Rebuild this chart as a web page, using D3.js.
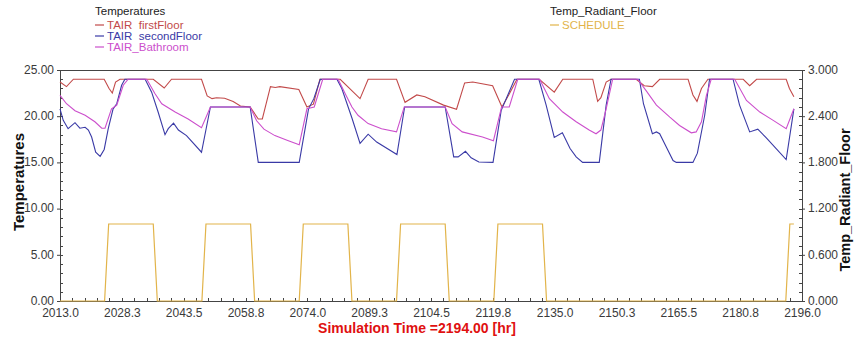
<!DOCTYPE html>
<html>
<head>
<meta charset="utf-8">
<script src="https://cdn.jsdelivr.net/npm/d3@7/dist/d3.min.js"></script>
<style>
  html, body { margin: 0; padding: 0; background: #fff; }
  svg { display: block; font-family: "Liberation Sans", Arial, sans-serif; }
</style>
</head>
<body>
<svg id="chart" width="854" height="341"></svg>
<script>
// ---- data (time [hr], value) ----
const firstFloorT = [2013.0, 2014.6, 2016.3, 2023.9, 2025.1, 2025.9, 2026.7, 2027.8, 2036.0, 2038.7, 2040.5, 2047.9,
  2049.3, 2050.5, 2051.6, 2053.6, 2055.7, 2057.5, 2059.9, 2061.9, 2062.9, 2064.9, 2066.1, 2067.2, 2071.9, 2073.9,
  2075.5, 2077.1, 2082.1, 2087.0, 2089.0, 2096.0, 2098.1, 2101.0, 2103.0, 2107.6, 2110.8, 2112.8, 2114.8, 2119.7,
  2122.0, 2123.8, 2125.7, 2131.2, 2134.9, 2137.0, 2144.4, 2145.6, 2146.4, 2147.7, 2148.9, 2155.1, 2157.1, 2159.1,
  2160.9, 2167.9, 2169.1, 2170.1, 2171.2, 2172.8, 2181.5, 2183.1, 2184.8, 2192.1, 2192.9, 2194.0];
const firstFloorV = [23.7, 23.2, 24.0, 24.0, 23.0, 22.5, 23.7, 24.0, 24.0, 23.05, 24.0, 24.0,
  22.2, 21.9, 22.0, 21.95, 21.6, 21.1, 21.0, 19.7, 19.7, 23.2, 23.1, 23.2, 22.9, 21.0,
  21.3, 24.0, 24.0, 21.9, 24.0, 24.0, 21.5, 22.3, 22.1, 21.2, 20.75, 23.6, 23.7, 23.3,
  21.0, 22.4, 24.0, 24.0, 22.6, 24.0, 24.0, 21.6, 22.0, 23.7, 24.0, 24.0, 23.3, 23.2,
  24.0, 24.0, 22.3, 21.6, 23.0, 24.0, 24.0, 23.3, 24.0, 24.0, 23.0, 22.1];

const secondFloorT = [2013.0, 2013.8, 2015.0, 2016.7, 2017.9, 2019.2, 2020.0, 2020.8, 2021.8, 2022.9, 2023.9, 2024.9,
  2026.1, 2027.0, 2028.2, 2029.0, 2034.0, 2035.6, 2037.2, 2038.9, 2039.7, 2041.0, 2042.2, 2044.2, 2047.9, 2050.1,
  2059.9, 2061.9, 2072.0, 2074.3, 2075.6, 2077.2, 2081.3, 2082.5, 2085.0, 2087.0, 2089.0, 2091.1, 2096.1, 2098.0,
  2108.0, 2110.1, 2111.2, 2113.0, 2114.4, 2116.3, 2119.8, 2121.8, 2125.1, 2131.1, 2132.9, 2134.9, 2136.9, 2138.8,
  2140.3, 2141.9, 2146.0, 2147.7, 2148.9, 2155.9, 2156.9, 2159.1, 2160.1, 2160.9, 2162.5, 2164.2, 2165.0, 2169.1,
  2170.2, 2172.0, 2173.2, 2179.0, 2180.6, 2183.1, 2185.1, 2187.2, 2192.1, 2194.0];
const secondFloorV = [20.8, 19.55, 18.65, 19.3, 18.7, 18.8, 18.5, 17.75, 16.1, 15.65, 16.4, 18.65,
  20.8, 21.35, 23.35, 24.0, 24.0, 22.6, 20.45, 18.0, 18.65, 19.25, 18.5, 17.9, 16.1, 21.0,
  21.0, 15.0, 15.0, 20.8, 21.9, 24.0, 24.0, 23.0, 19.8, 17.05, 18.05, 17.2, 15.85, 21.0,
  21.0, 15.6, 15.6, 16.2, 15.5, 15.05, 15.0, 20.6, 24.0, 24.0, 21.2, 17.7, 18.2, 16.5,
  15.6, 15.0, 15.0, 21.2, 24.0, 24.0, 21.35, 18.1, 18.3, 18.1, 16.7, 15.2, 15.0, 15.0,
  16.0, 20.1, 24.0, 24.0, 21.2, 18.3, 18.6, 17.65, 15.3, 20.8];

const bathroomT = [2013.0, 2014.6, 2016.7, 2019.2, 2021.6, 2023.3, 2024.1, 2025.7, 2027.0, 2028.6, 2029.8, 2034.4,
  2036.4, 2038.1, 2041.4, 2044.6, 2047.9, 2050.1, 2059.9, 2061.5, 2063.3, 2066.0, 2069.0, 2072.0, 2073.9, 2075.7,
  2077.8, 2081.6, 2083.5, 2085.0, 2086.5, 2089.0, 2092.3, 2096.0, 2097.9, 2108.0, 2109.7, 2112.2, 2117.2, 2119.9,
  2121.9, 2123.8, 2125.9, 2131.3, 2133.7, 2137.0, 2140.3, 2143.5, 2145.2, 2146.4, 2147.7, 2149.3, 2155.5, 2157.5,
  2160.1, 2163.4, 2165.8, 2168.7, 2169.9, 2171.2, 2172.4, 2173.6, 2179.4, 2182.3, 2185.6, 2188.9, 2192.1, 2194.0];
const bathroomV = [22.25, 21.35, 20.6, 20.1, 19.4, 18.7, 18.7, 20.8, 21.2, 23.35, 24.0, 24.0,
  22.45, 21.35, 20.45, 19.7, 18.75, 21.0, 21.0, 19.5, 18.6, 17.9, 17.4, 16.9, 20.8, 21.0,
  24.0, 24.0, 22.3, 21.0, 20.1, 19.2, 18.65, 18.3, 21.0, 21.0, 19.2, 18.3, 17.75, 17.35,
  21.0, 21.0, 24.0, 24.0, 21.9, 20.45, 19.4, 18.5, 18.1, 18.5, 20.8, 24.0, 24.0, 22.8,
  21.2, 19.9, 19.0, 18.2, 18.3, 19.4, 22.2, 24.0, 24.0, 21.7, 20.45, 19.55, 18.65, 20.8];

const scheduleT = [2013, 2024, 2025, 2036, 2037, 2048, 2049, 2060, 2061, 2072, 2073, 2084, 2085,
  2096, 2097, 2108, 2109, 2120, 2121, 2132, 2133, 2192, 2193, 2194];
const scheduleV = [0, 0, 1, 1, 0, 0, 1, 1, 0, 0, 1, 1, 0,
  0, 1, 1, 0, 0, 1, 1, 0, 0, 1, 1];

const xTicks = [2013.0, 2028.25, 2043.5, 2058.75, 2074.0, 2089.25, 2104.5, 2119.75, 2135.0, 2150.25, 2165.5, 2180.75, 2196.0];
const yLeftTicks = [0, 5, 10, 15, 20, 25];
const yRightTicks = [0, 0.6, 1.2, 1.8, 2.4, 3.0];

const leftLegend = ["TAIR  firstFloor", "TAIR  secondFloor", "TAIR_Bathroom"];
const leftColors = ["#c24a4a", "#3a3aa6", "#cc4fcc"];
const rightLegend = ["SCHEDULE"];
const rightColors = ["#e2b44a"];

// ---- layout ----
const svg = d3.select("#chart");
const plotL = 60, plotR = 802, plotT = 70, plotB = 301;

const x = d3.scaleLinear().domain([2013, 2196]).range([plotL, plotR]);
const yL = d3.scaleLinear().domain([0, 25]).range([plotB, plotT]);
const yR = d3.scaleLinear().domain([0, 3]).range([plotB, plotT]);

const pts = (ts, vs) => ts.map((t, i) => [t, vs[i]]);

// frame
svg.append("rect")
  .attr("x", plotL + 0.5).attr("y", plotT + 0.5)
  .attr("width", plotR - plotL).attr("height", plotB - plotT)
  .attr("fill", "none").attr("stroke", "#444").attr("stroke-width", 1);

// axes
const axisColor = "#444";
const xAxis = svg.append("g").attr("transform", `translate(0,${plotB})`)
  .call(d3.axisBottom(x).tickValues(xTicks).tickFormat(d3.format(".1f")).tickSize(0).tickPadding(7));
const yAxisL = svg.append("g").attr("transform", `translate(${plotL},0)`)
  .call(d3.axisLeft(yL).tickValues(yLeftTicks).tickFormat(d3.format(".2f")).tickSize(3).tickPadding(3));
const yAxisR = svg.append("g").attr("transform", `translate(${plotR},0)`)
  .call(d3.axisRight(yR).tickValues(yRightTicks).tickFormat(d3.format(".3f")).tickSize(3).tickPadding(3));

[xAxis, yAxisL, yAxisR].forEach(g => {
  g.select(".domain").remove();
  g.selectAll("text").attr("fill", "#3a3a3a").style("font-size", "12px")
    .style("font-family", "'Liberation Sans', Arial, sans-serif");
  g.selectAll("line").attr("stroke", axisColor);
});
// first/last x labels and bottom y labels sit close, as in the original
yAxisL.selectAll("text").attr("dy", "0.28em");
yAxisR.selectAll("text").attr("dy", "0.28em");

// minor ticks (inside the frame)
const minorX = d3.range(plotL, plotR + 0.1, (plotR - plotL) / 60);
svg.append("g").selectAll("line").data(minorX).enter().append("line")
  .attr("x1", d => Math.round(d) + 0.5).attr("x2", d => Math.round(d) + 0.5)
  .attr("y1", plotB).attr("y2", plotB - 3)
  .attr("stroke", axisColor);
const minorY = d3.range(0, 25.01, 1);
svg.append("g").selectAll("line").data(minorY).enter().append("line")
  .attr("x1", plotL).attr("x2", plotL + 3)
  .attr("y1", d => Math.round(yL(d)) + 0.5).attr("y2", d => Math.round(yL(d)) + 0.5)
  .attr("stroke", axisColor);
svg.append("g").selectAll("line").data(minorY).enter().append("line")
  .attr("x1", plotR).attr("x2", plotR - 3)
  .attr("y1", d => Math.round(yL(d)) + 0.5).attr("y2", d => Math.round(yL(d)) + 0.5)
  .attr("stroke", axisColor);

// series
const lineL = d3.line().x(d => x(d[0])).y(d => yL(d[1]));
const lineR = d3.line().x(d => x(d[0])).y(d => yR(d[1]));

svg.append("path").datum(pts(scheduleT, scheduleV))
  .attr("d", lineR).attr("fill", "none").attr("stroke", rightColors[0]).attr("stroke-width", 1.2);
[[firstFloorT, firstFloorV], [secondFloorT, secondFloorV], [bathroomT, bathroomV]].forEach((s, i) => {
  svg.append("path").datum(pts(s[0], s[1]))
    .attr("d", lineL).attr("fill", "none").attr("stroke", leftColors[i]).attr("stroke-width", 1.1);
});

// legends
function legend(x0, title, names, colors) {
  const g = svg.append("g").style("font-size", "11.5px");
  g.append("text").attr("x", x0).attr("y", 15).attr("fill", "#222").text(title);
  names.forEach((n, i) => {
    const yy = 29 + i * 11;
    g.append("line").attr("x1", x0).attr("x2", x0 + 9).attr("y1", yy - 4).attr("y2", yy - 4)
      .attr("stroke", colors[i]).attr("stroke-width", 1.2);
    g.append("text").attr("x", x0 + 12).attr("y", yy).attr("fill", colors[i])
      .style("white-space", "pre").text(n);
  });
}
legend(95, "Temperatures", leftLegend, leftColors);
legend(550, "Temp_Radiant_Floor", rightLegend, rightColors);

// axis titles
svg.append("text").attr("transform", "translate(24,182) rotate(-90)")
  .attr("text-anchor", "middle").style("font-size", "15px").style("font-weight", "bold")
  .attr("fill", "#111").text("Temperatures");
svg.append("text").attr("transform", "translate(850,200) rotate(-90)")
  .attr("text-anchor", "middle").style("font-size", "14.5px").style("font-weight", "bold")
  .attr("fill", "#111").text("Temp_Radiant_Floor");
svg.append("text").attr("x", 417).attr("y", 333)
  .attr("text-anchor", "middle").style("font-size", "14px").style("font-weight", "bold")
  .attr("fill", "#e01010").text("Simulation Time =2194.00 [hr]");
</script>
</body>
</html>
